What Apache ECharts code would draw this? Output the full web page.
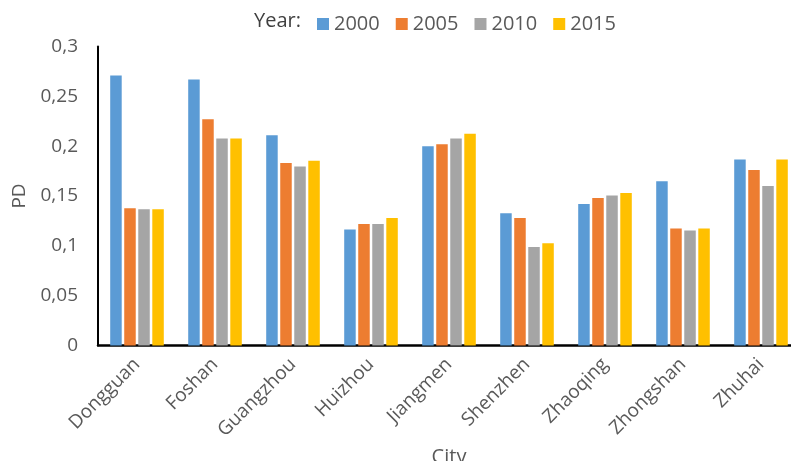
<!DOCTYPE html>
<html><head><meta charset="utf-8">
<script src="https://cdn.jsdelivr.net/npm/echarts@6/dist/echarts.min.js"></script>
<style>html,body{margin:0;padding:0;background:#fff}#c{width:791px;height:461px}</style>
</head><body><div id="c"></div>
<script>
const cities = ['Dongguan','Foshan','Guangzhou','Huizhou','Jiangmen','Shenzhen','Zhaoqing','Zhongshan','Zhuhai'];
const years = ['2000','2005','2010','2015'];
const v2000 = [0.271,0.267,0.211,0.1165,0.1998,0.1326,0.142,0.1647,0.1867];
const v2005 = [0.1376,0.227,0.183,0.122,0.202,0.128,0.148,0.1175,0.176];
const v2010 = [0.1366,0.2078,0.1797,0.122,0.2078,0.0988,0.1506,0.1155,0.160];
const v2015 = [0.1366,0.2078,0.1854,0.128,0.2124,0.1025,0.153,0.1175,0.1867];
const colors = ['#5B9BD5','#ED7D31','#A5A5A5','#FFC000'];
const seriesData = [v2000,v2005,v2010,v2015];
const FF = '"Open Sans", sans-serif';
const chart = echarts.init(document.getElementById('c'));
chart.setOption({
  animation:false,
  color:colors,
  title:{text:'Year:',left:249,top:6,textStyle:{fontFamily:FF,fontSize:20,fontWeight:'normal',color:'#404040'}},
  legend:{left:312,top:9,icon:'rect',itemWidth:12,itemHeight:12,itemGap:16,
    textStyle:{fontFamily:FF,fontSize:20,color:'#595959'},data:years},
  grid:{left:98,right:-9,top:46.5,bottom:115.5,containLabel:false,outerBoundsMode:'none'},
  xAxis:{type:'category',data:cities,name:'City',nameLocation:'middle',nameGap:96,
    nameTextStyle:{fontFamily:FF,fontSize:20,color:'#595959'},
    axisLine:{lineStyle:{color:'#000',width:2.5}},axisTick:{show:false},
    axisLabel:{rotate:45,margin:16,interval:0,fontFamily:FF,fontSize:19,color:'#595959'}},
  yAxis:{type:'value',min:0,max:0.3,interval:0.05,name:'PD',nameLocation:'middle',nameGap:69,
    nameTextStyle:{fontFamily:FF,fontSize:19,color:'#595959'},
    axisLine:{show:true,lineStyle:{color:'#000',width:2}},axisTick:{show:false},splitLine:{show:false},
    axisLabel:{margin:20,fontFamily:FF,fontSize:19,color:'#595959',formatter:v=>String(Math.round(v*100)/100).replace('.',',')}},
  series:years.map((y,i)=>({name:y,type:'bar',data:seriesData[i],barWidth:11.5,barGap:'22%',
    itemStyle:{color:colors[i]}}))
});
</script></body></html>
